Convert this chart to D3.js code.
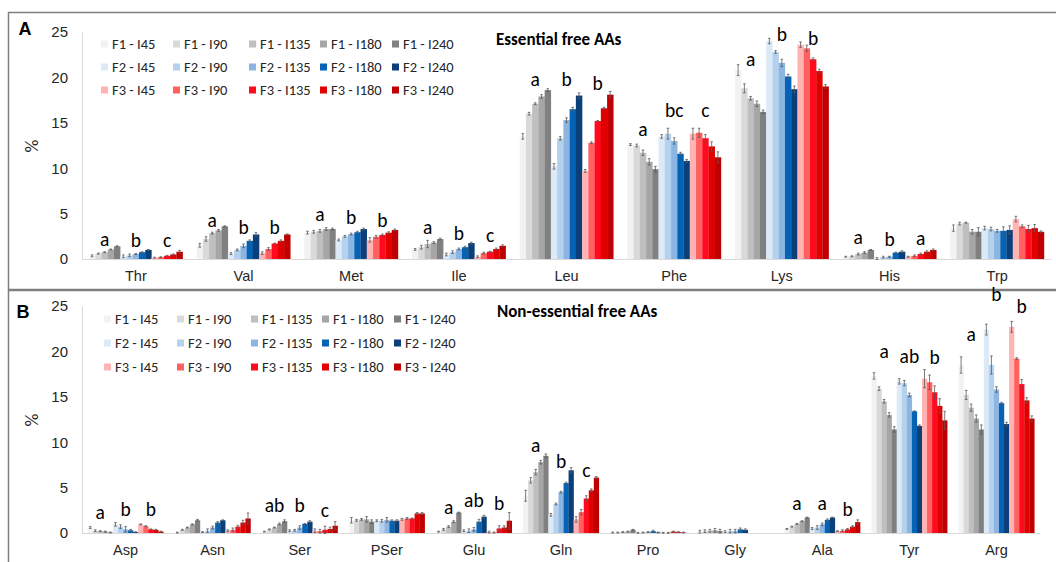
<!DOCTYPE html>
<head>
<meta charset="utf-8">
<style>
  body { margin: 0; background: #fff; }
  svg { font-family: Carlito, Calibri, Lato, "Open Sans", sans-serif; }
  .axis text { font-size: 14.5px; fill: #262626; }
  .axis path { stroke: #d9d9d9; }
  .legend text { font-size: 14.5px; fill: #262626; }
</style>
</head>
<body>
<svg width="1056" height="562"></svg>
<script src="https://d3js.org/d3.v7.min.js"></script>
<script>

// series: 3 formulations x 5 times
var seriesNames = ["F1 - I45", "F1 - I90", "F1 - I135", "F1 - I180", "F1 - I240",
                   "F2 - I45", "F2 - I90", "F2 - I135", "F2 - I180", "F2 - I240",
                   "F3 - I45", "F3 - I90", "F3 - I135", "F3 - I180", "F3 - I240"];
var seriesColors = ["#f2f2f2", "#d9d9d9", "#bfbfbf", "#a6a6a6", "#808080",
                    "#dce9f7", "#b4d1ee", "#8db5e2", "#0563b5", "#0b3f7a",
                    "#ffb3b3", "#ff6161", "#ff0a1e", "#e00000", "#c00000"];
var yTicks = [0, 5, 10, 15, 20, 25];

// Panel A - essential free AAs (%)
var essentialNames = ["Thr", "Val", "Met", "Ile", "Leu", "Phe", "Lys", "His", "Trp"];
var essentialMeans = [
  [0.35, 0.6, 0.75, 1.05, 1.4, 0.3, 0.4, 0.55, 0.75, 1.0, 0.15, 0.2, 0.35, 0.5, 0.8],
  [1.5, 2.2, 2.85, 3.15, 3.6, 0.6, 1.0, 1.45, 2.0, 2.7, 0.65, 1.1, 1.7, 2.0, 2.7],
  [2.9, 3.0, 3.1, 3.3, 3.3, 2.1, 2.5, 2.75, 2.95, 3.3, 2.1, 2.45, 2.65, 2.9, 3.2],
  [1.05, 1.3, 1.65, 1.8, 2.2, 0.5, 0.75, 1.1, 1.3, 1.75, 0.25, 0.65, 0.8, 1.1, 1.45],
  [13.5, 16.0, 17.1, 17.9, 18.6, 10.2, 13.3, 15.3, 16.5, 18.0, 9.7, 12.8, 15.2, 16.6, 18.1],
  [12.6, 12.5, 11.7, 10.7, 9.9, 13.5, 13.8, 13.0, 11.6, 10.8, 13.8, 13.9, 13.3, 12.4, 11.2],
  [20.8, 18.8, 17.7, 17.1, 16.2, 24.0, 22.8, 21.6, 20.1, 18.7, 23.6, 23.2, 22.0, 20.7, 19.0],
  [0.25, 0.3, 0.55, 0.7, 1.0, 0.05, 0.2, 0.25, 0.7, 0.8, 0.25, 0.35, 0.55, 0.8, 1.0],
  [3.4, 3.9, 4.0, 3.0, 3.0, 3.4, 3.3, 3.1, 3.1, 3.2, 4.4, 3.6, 3.3, 3.4, 3.0]
];
var essentialErrors = [
  [0.1, 0.05, 0.05, 0.05, 0.05, 0.15, 0.15, 0.05, 0.05, 0.05, 0.05, 0.05, 0.05, 0.05, 0.15],
  [0.2, 0.25, 0.1, 0.1, 0.05, 0.1, 0.1, 0.2, 0.1, 0.2, 0.15, 0.15, 0.05, 0.1, 0.05],
  [0.15, 0.15, 0.15, 0.15, 0.1, 0.1, 0.1, 0.1, 0.1, 0.1, 0.25, 0.15, 0.1, 0.1, 0.1],
  [0.1, 0.2, 0.4, 0.1, 0.1, 0.15, 0.15, 0.1, 0.1, 0.1, 0.1, 0.1, 0.05, 0.1, 0.1],
  [0.3, 0.15, 0.1, 0.2, 0.15, 0.3, 0.2, 0.25, 0.2, 0.3, 0.15, 0.1, 0.05, 0.1, 0.35],
  [0.1, 0.15, 0.3, 0.35, 0.3, 0.2, 0.6, 0.35, 0.15, 0.15, 0.6, 0.5, 0.4, 0.5, 0.6],
  [0.6, 0.5, 0.2, 0.3, 0.2, 0.3, 0.15, 0.4, 0.25, 0.35, 0.3, 0.35, 0.15, 0.2, 0.2],
  [0.05, 0.05, 0.1, 0.1, 0.05, 0.1, 0.1, 0.05, 0.05, 0.1, 0.05, 0.1, 0.1, 0.1, 0.1],
  [0.35, 0.15, 0.05, 0.25, 0.45, 0.2, 0.2, 0.15, 0.45, 0.45, 0.3, 0.15, 0.4, 0.4, 0.1]
];
// significance letters per formulation (F1, F2, F3) and the level they sit at
var essentialLetters = [["a", "b", "c"], ["a", "b", "b"], ["a", "b", "b"], ["a", "b", "c"], ["a", "b", "b"],
                        ["a", "bc", "c"], ["a", "b", "b"], ["a", "b", "a"], []];
var essentialLetterLevels = [[1.4, 1.3, 1.3], [3.5, 2.75, 2.75], [4.2, 3.85, 3.5], [2.75, 2.1, 1.9], [19.05, 19.0, 18.6],
                             [13.5, 15.6, 15.6], [21.3, 24.0, 23.6], [1.65, 1.43, 1.54], []];

// Panel B - non-essential free AAs (%)
var nonEssentialNames = ["Asp", "Asn", "Ser", "PSer", "Glu", "Gln", "Pro", "Gly", "Ala", "Tyr", "Arg"];
var nonEssentialMeans = [
  [0.6, 0.25, 0.2, 0.15, 0.05, 0.95, 0.7, 0.4, 0.3, 0.1, 0.95, 0.75, 0.4, 0.35, 0.15],
  [0.05, 0.35, 0.6, 0.95, 1.4, 0.1, 0.25, 0.6, 1.15, 1.4, 0.25, 0.35, 0.7, 1.15, 1.6],
  [0.15, 0.4, 0.6, 1.0, 1.3, 0.25, 0.3, 0.6, 1.0, 1.25, 0.25, 0.2, 0.35, 0.45, 0.8],
  [1.4, 1.4, 1.5, 1.5, 1.25, 1.35, 1.35, 1.45, 1.35, 1.35, 1.5, 1.6, 1.6, 2.15, 2.15],
  [0.15, 0.4, 0.7, 1.25, 2.25, 0.25, 0.25, 0.4, 1.25, 1.8, 0.1, 0.05, 0.5, 0.6, 1.35],
  [4.1, 5.8, 6.7, 7.8, 8.5, 2.0, 3.2, 4.5, 5.5, 6.9, 1.5, 2.3, 3.8, 4.7, 6.1],
  [0.05, 0.05, 0.1, 0.15, 0.35, 0.02, 0.05, 0.1, 0.2, 0.05, 0.02, 0.02, 0.15, 0.1, 0.05],
  [0.15, 0.2, 0.25, 0.3, 0.2, 0.15, 0.2, 0.2, 0.4, 0.35, 0, 0, 0, 0, 0],
  [0.45, 0.7, 1.0, 1.3, 1.7, 0.5, 0.6, 0.95, 1.45, 1.7, 0.2, 0.25, 0.4, 0.7, 1.2],
  [17.3, 15.9, 14.5, 13.0, 11.4, 16.7, 16.5, 15.2, 13.4, 11.8, 17.0, 16.6, 15.5, 14.0, 12.4],
  [18.5, 15.2, 13.8, 12.6, 11.4, 22.4, 18.5, 15.8, 14.3, 12.0, 22.7, 19.2, 16.4, 14.6, 12.6]
];
var nonEssentialErrors = [
  [0.1, 0.1, 0.05, 0.05, 0.05, 0.2, 0.2, 0.3, 0.1, 0.05, 0.05, 0.05, 0.05, 0.05, 0.05],
  [0.05, 0.05, 0.05, 0.05, 0.1, 0.05, 0.2, 0.15, 0.1, 0.05, 0.1, 0.2, 0.15, 0.25, 0.6],
  [0.05, 0.05, 0.05, 0.1, 0.15, 0.1, 0.1, 0.2, 0.05, 0.1, 0.2, 0.2, 0.4, 0.2, 0.45],
  [0.3, 0.1, 0.1, 0.3, 0.2, 0.1, 0.15, 0.25, 0.1, 0.1, 0.1, 0.1, 0.05, 0.1, 0.1],
  [0.05, 0.1, 0.1, 0.1, 0.05, 0.1, 0.2, 0.2, 0.25, 0.15, 0.1, 0.05, 0.3, 0.2, 0.9],
  [0.6, 0.3, 0.3, 0.2, 0.2, 0.15, 0.1, 0.1, 0.1, 0.3, 0.3, 0.3, 0.3, 0.15, 0.1],
  [0.05, 0.05, 0.05, 0.05, 0.05, 0.05, 0.05, 0.05, 0.1, 0.05, 0.05, 0.05, 0.05, 0.05, 0.05],
  [0.15, 0.15, 0.15, 0.2, 0.2, 0.1, 0.2, 0.2, 0.15, 0.1, 0, 0, 0, 0, 0],
  [0.05, 0.05, 0.05, 0.05, 0.05, 0.1, 0.2, 0.15, 0.1, 0.05, 0.05, 0.1, 0.1, 0.1, 0.25],
  [0.35, 0.2, 0.2, 0.25, 0.3, 0.3, 0.3, 0.2, 0.05, 0.1, 1.0, 0.8, 0.7, 0.8, 1.0],
  [0.9, 0.5, 0.4, 0.4, 0.5, 0.6, 1.0, 0.3, 0.1, 0.2, 0.6, 0.1, 0.5, 0.3, 0.3]
];
var nonEssentialLetters = [["a", "b", "b"], [], ["ab", "b", "c"], [], ["a", "ab", "b"], ["a", "b", "c"],
                           [], [], ["a", "a", "b"], ["a", "ab", "b"], ["a", "b", "b"]];
var nonEssentialLetterLevels = [[1.54, 1.87, 1.87], [], [2.3, 2.3, 1.76], [], [2.1, 2.86, 2.53], [8.9, 7.16, 6.17],
                                [], [], [2.53, 2.53, 1.87], [19.3, 18.7, 18.6], [21.1, 25.5, 24.2]];

var svg = d3.select("svg");

function drawPanel(opt) {
  var g = svg.append("g");

  // frame
  g.append("rect")
      .attr("x", 8.5).attr("y", opt.top + 0.5)
      .attr("width", 1100).attr("height", opt.frameHeight)
      .attr("fill", "none").attr("stroke", "#7f7f7f").attr("stroke-width", 1.5);

  g.append("text")
      .attr("x", opt.labelX).attr("y", opt.labelY)
      .attr("text-anchor", "middle")
      .style("font-family", "Arial, 'Liberation Sans', sans-serif")
      .style("font-weight", "bold").style("font-size", "18px")
      .text(opt.label);

  var y = d3.scaleLinear().domain([0, 25]).range([opt.y0, opt.y25]);
  var x = d3.scaleBand().domain(opt.names).range([82, opt.xEnd])
      .paddingInner(0.13).paddingOuter(0.065);
  var xs = d3.scaleBand().domain(seriesNames).range([0, x.bandwidth()]);

  g.append("g")
      .attr("class", "axis")
      .attr("transform", "translate(82,0)")
      .call(d3.axisLeft(y).tickValues(yTicks).tickSize(0).tickPadding(14))
      .selectAll("text").style("font-size", "15px");

  g.append("g")
      .attr("class", "axis")
      .attr("transform", "translate(0," + opt.y0 + ")")
      .call(d3.axisBottom(x).tickSize(0).tickPadding(12).tickSizeOuter(0));

  g.append("text")
      .attr("transform", "translate(38," + opt.pctY + ") rotate(-90)")
      .attr("text-anchor", "middle")
      .style("font-size", "18px").style("fill", "#262626")
      .text("%");

  // bars + error bars
  var groups = g.selectAll(".grp")
    .data(opt.names)
    .enter().append("g")
      .attr("class", "grp")
      .attr("transform", function(d) { return "translate(" + x(d) + ",0)"; });

  groups.selectAll("rect")
    .data(function(d, i) { return opt.means[i].map(function(v, j) { return { s: seriesNames[j], v: v, e: opt.errors[i][j], c: seriesColors[j] }; }); })
    .enter().append("rect")
      .attr("x", function(d) { return xs(d.s); })
      .attr("y", function(d) { return y(d.v); })
      .attr("width", xs.bandwidth() + 0.2)
      .attr("height", function(d) { return y(0) - y(d.v); })
      .attr("fill", function(d) { return d.c; });

  var eb = groups.selectAll(".err")
    .data(function(d, i) { return opt.means[i].map(function(v, j) { return { s: seriesNames[j], v: v, e: opt.errors[i][j] }; }).filter(function(d) { return d.v > 0; }); })
    .enter().append("g")
      .attr("class", "err")
      .attr("stroke", "#595959").attr("stroke-width", 0.8);
  eb.append("line")
      .attr("x1", function(d) { return xs(d.s) + xs.bandwidth() / 2; })
      .attr("x2", function(d) { return xs(d.s) + xs.bandwidth() / 2; })
      .attr("y1", function(d) { return y(d.v - d.e); })
      .attr("y2", function(d) { return y(d.v + d.e); });
  [-1, 1].forEach(function(sign) {
    eb.append("line")
        .attr("x1", function(d) { return xs(d.s) + xs.bandwidth() / 2 - 1.3; })
        .attr("x2", function(d) { return xs(d.s) + xs.bandwidth() / 2 + 1.3; })
        .attr("y1", function(d) { return y(d.v + sign * d.e); })
        .attr("y2", function(d) { return y(d.v + sign * d.e); });
  });

  // significance letters, centred over each formulation
  var fw = x.bandwidth() / 3;
  opt.names.forEach(function(name, i) {
    opt.letters[i].forEach(function(l, k) {
      g.append("text")
          .attr("x", x(name) + fw * k + fw / 2)
          .attr("y", y(opt.levels[i][k]))
          .attr("text-anchor", "middle")
          .style("font-size", "19.5px").style("fill", "#000")
          .text(l);
    });
  });

  // legend
  var leg = g.append("g").attr("class", "legend");
  seriesNames.forEach(function(s, j) {
    var cx = opt.legendCols[j % 5], cy = opt.legendRows[Math.floor(j / 5)];
    leg.append("rect")
        .attr("x", cx).attr("y", cy - 3.5)
        .attr("width", 7).attr("height", 7)
        .attr("fill", seriesColors[j]);
    leg.append("text")
        .attr("x", cx + 11).attr("y", cy)
        .attr("dy", "0.35em")
        .text(s);
  });

  g.append("text")
      .attr("x", opt.titleX).attr("y", opt.titleY)
      .style("font-weight", "bold").style("font-size", "17px").style("fill", "#000")
      .text(opt.title);
}

drawPanel({
  top: 12, frameHeight: 277, label: "A", labelX: 25, labelY: 35,
  names: essentialNames, means: essentialMeans, errors: essentialErrors,
  letters: essentialLetters, levels: essentialLetterLevels,
  y0: 259, y25: 32, xEnd: 1051, pctY: 146,
  legendCols: [101, 173, 249, 320, 392], legendRows: [44, 67, 90],
  title: "Essential free AAs", titleX: 496, titleY: 45
});

drawPanel({
  top: 290, frameHeight: 400, label: "B", labelX: 23, labelY: 318,
  names: nonEssentialNames, means: nonEssentialMeans, errors: nonEssentialErrors,
  letters: nonEssentialLetters, levels: nonEssentialLetterLevels,
  y0: 533, y25: 306, xEnd: 1040, pctY: 420,
  legendCols: [104, 177, 251, 322, 394], legendRows: [319, 343, 367],
  title: "Non-essential free AAs", titleX: 497, titleY: 317
});

</script>
</body>
